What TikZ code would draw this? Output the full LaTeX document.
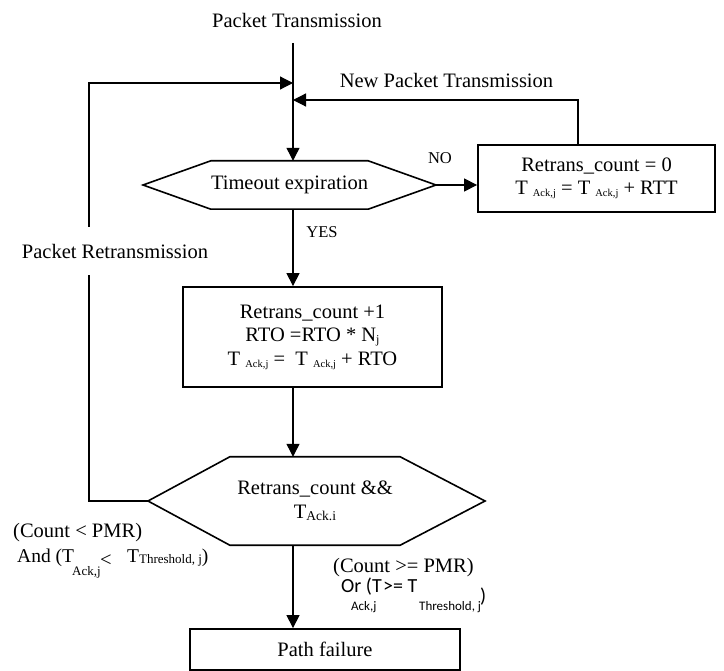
\documentclass[tikz,border=0pt]{standalone}
\usepackage{fontspec}
\setmainfont{Liberation Serif}
\newfontfamily\sansf{Carlito}
\usetikzlibrary{arrows.meta,calc}
\newcommand\mysub[3]{\raisebox{-#2}{\fontsize{#1}{#1}\selectfont #3}}
\begin{document}
\begin{tikzpicture}[x=1pt,y=-1pt,
  txt/.style={font=\fontsize{20.5}{23.5}\selectfont, inner sep=0pt},
  sml/.style={font=\fontsize{16.5}{18}\selectfont, inner sep=0pt},
  sanstxt/.style={font=\sansf\fontsize{20}{21}\selectfont, inner sep=0pt, anchor=base west},
  sanssub/.style={font=\sansf\fontsize{13}{14}\selectfont, inner sep=0pt, anchor=base west},
  boxn/.style={draw, line width=1.8pt, align=center, inner sep=0pt, font=\fontsize{20.5}{23.5}\selectfont},
  conn/.style={line width=1.2pt},
  arr/.style={conn, -{Triangle[length=13pt,width=13pt]}},
  hexl/.style={line width=1.6pt, line join=miter}]
\useasboundingbox (0,0) rectangle (724,671);

% top
\node[txt] (ttl) at (297,20) {Packet Transmission};
\coordinate (top) at (293,43);
\coordinate (j1) at (293,83);
\coordinate (j2) at (293,100);

% hexagon 1
\node[txt, minimum width=147pt, minimum height=48pt] (h1) at (289.5,185) {Timeout expiration};
\coordinate (h1w) at (143,185);
\coordinate (h1e) at (436,185);
\draw[hexl] (h1w) -- (h1.north west) -- (h1.north east) -- (h1e) -- (h1.south east) -- (h1.south west) -- cycle;
\draw[arr] (top) -- (top |- h1.north);

% NO branch
\node[boxn, minimum width=237pt, minimum height=67pt] (nob) at (596.5,178.5)
  {Retrans\_count = 0\\T \mysub{10.5}{2pt}{Ack,j} = T \mysub{10.5}{2pt}{Ack,j} + RTT};
\node[sml] (no) at (440,158) {NO};
\draw[arr] (h1e) -- (h1e -| nob.west);
\coordinate (fb) at (578,100);
\draw[arr] (fb |- nob.north) -- (fb) -- (j2);
\node[txt] (npt) at (446.5,80) {New Packet Transmission};

% YES branch
\node[boxn, minimum width=259pt, minimum height=100pt] (b2) at (312.5,337)
  {Retrans\_count +1\\RTO =RTO * N\mysub{12}{2pt}{j}\\T \mysub{10.5}{2pt}{Ack,j} =~ T \mysub{10.5}{2pt}{Ack,j} + RTO};
\draw[arr] (top |- h1.south) -- (top |- b2.north);
\node[sml] (yes) at (322,232) {YES};

% hexagon 2
\node[txt, align=center, minimum width=170pt, minimum height=88pt] (h2) at (315,501)
  {Retrans\_count \&\&\\T\mysub{13.5}{2pt}{Ack.i}};
\coordinate (h2w) at (148,501);
\coordinate (h2e) at (485,501);
\draw[hexl] (h2w) -- (h2.north west) -- (h2.north east) -- (h2e) -- (h2.south east) -- (h2.south west) -- cycle;
\draw[arr] (top |- b2.south) -- (top |- h2.north);

% retransmission loop
\coordinate (lp) at (89,501);
\draw[arr] (h2w) -- (lp) -- (lp |- j1) -- (j1);
\node[txt, fill=white, minimum height=48pt] (prt) at (115,251) {Packet Retransmission};

% path failure
\node[boxn, minimum width=270pt, minimum height=41pt] (pf) at (325,649.5) {Path failure};
\draw[arr] (top |- h2.south) -- (top |- pf.north);

% condition labels (left)
\node[txt, anchor=base west] (c1) at (13,537) {(Count < PMR)};
\node[font=\fontsize{19.5}{20}\selectfont, inner sep=0pt, anchor=base west] (c2) at (17,562) {And (T};
\node[font=\fontsize{13}{13}\selectfont, inner sep=0pt, anchor=base west] (c3) at (72,575) {Ack,j};
\node[txt, anchor=base west] (c4) at (100,566) {<};
\node[font=\fontsize{19.5}{20}\selectfont, inner sep=0pt, anchor=base west] (c5) at (127,562) {T\mysub{13}{1pt}{Threshold, j})};

% condition labels (bottom)
\node[txt, anchor=base west] (d1) at (333,572) {(Count >= PMR)};
\node[sanstxt] (d2) at (341,592) {Or (T};
\node[sanssub] (d3) at (351,610) {Ack,j};
\node[sanstxt] (d4) at (383,592) {>= T};
\node[sanssub] (d5) at (419,610) {Threshold, j};
\node[sanstxt] (d6) at (480,602) {)};
\end{tikzpicture}
\end{document}
